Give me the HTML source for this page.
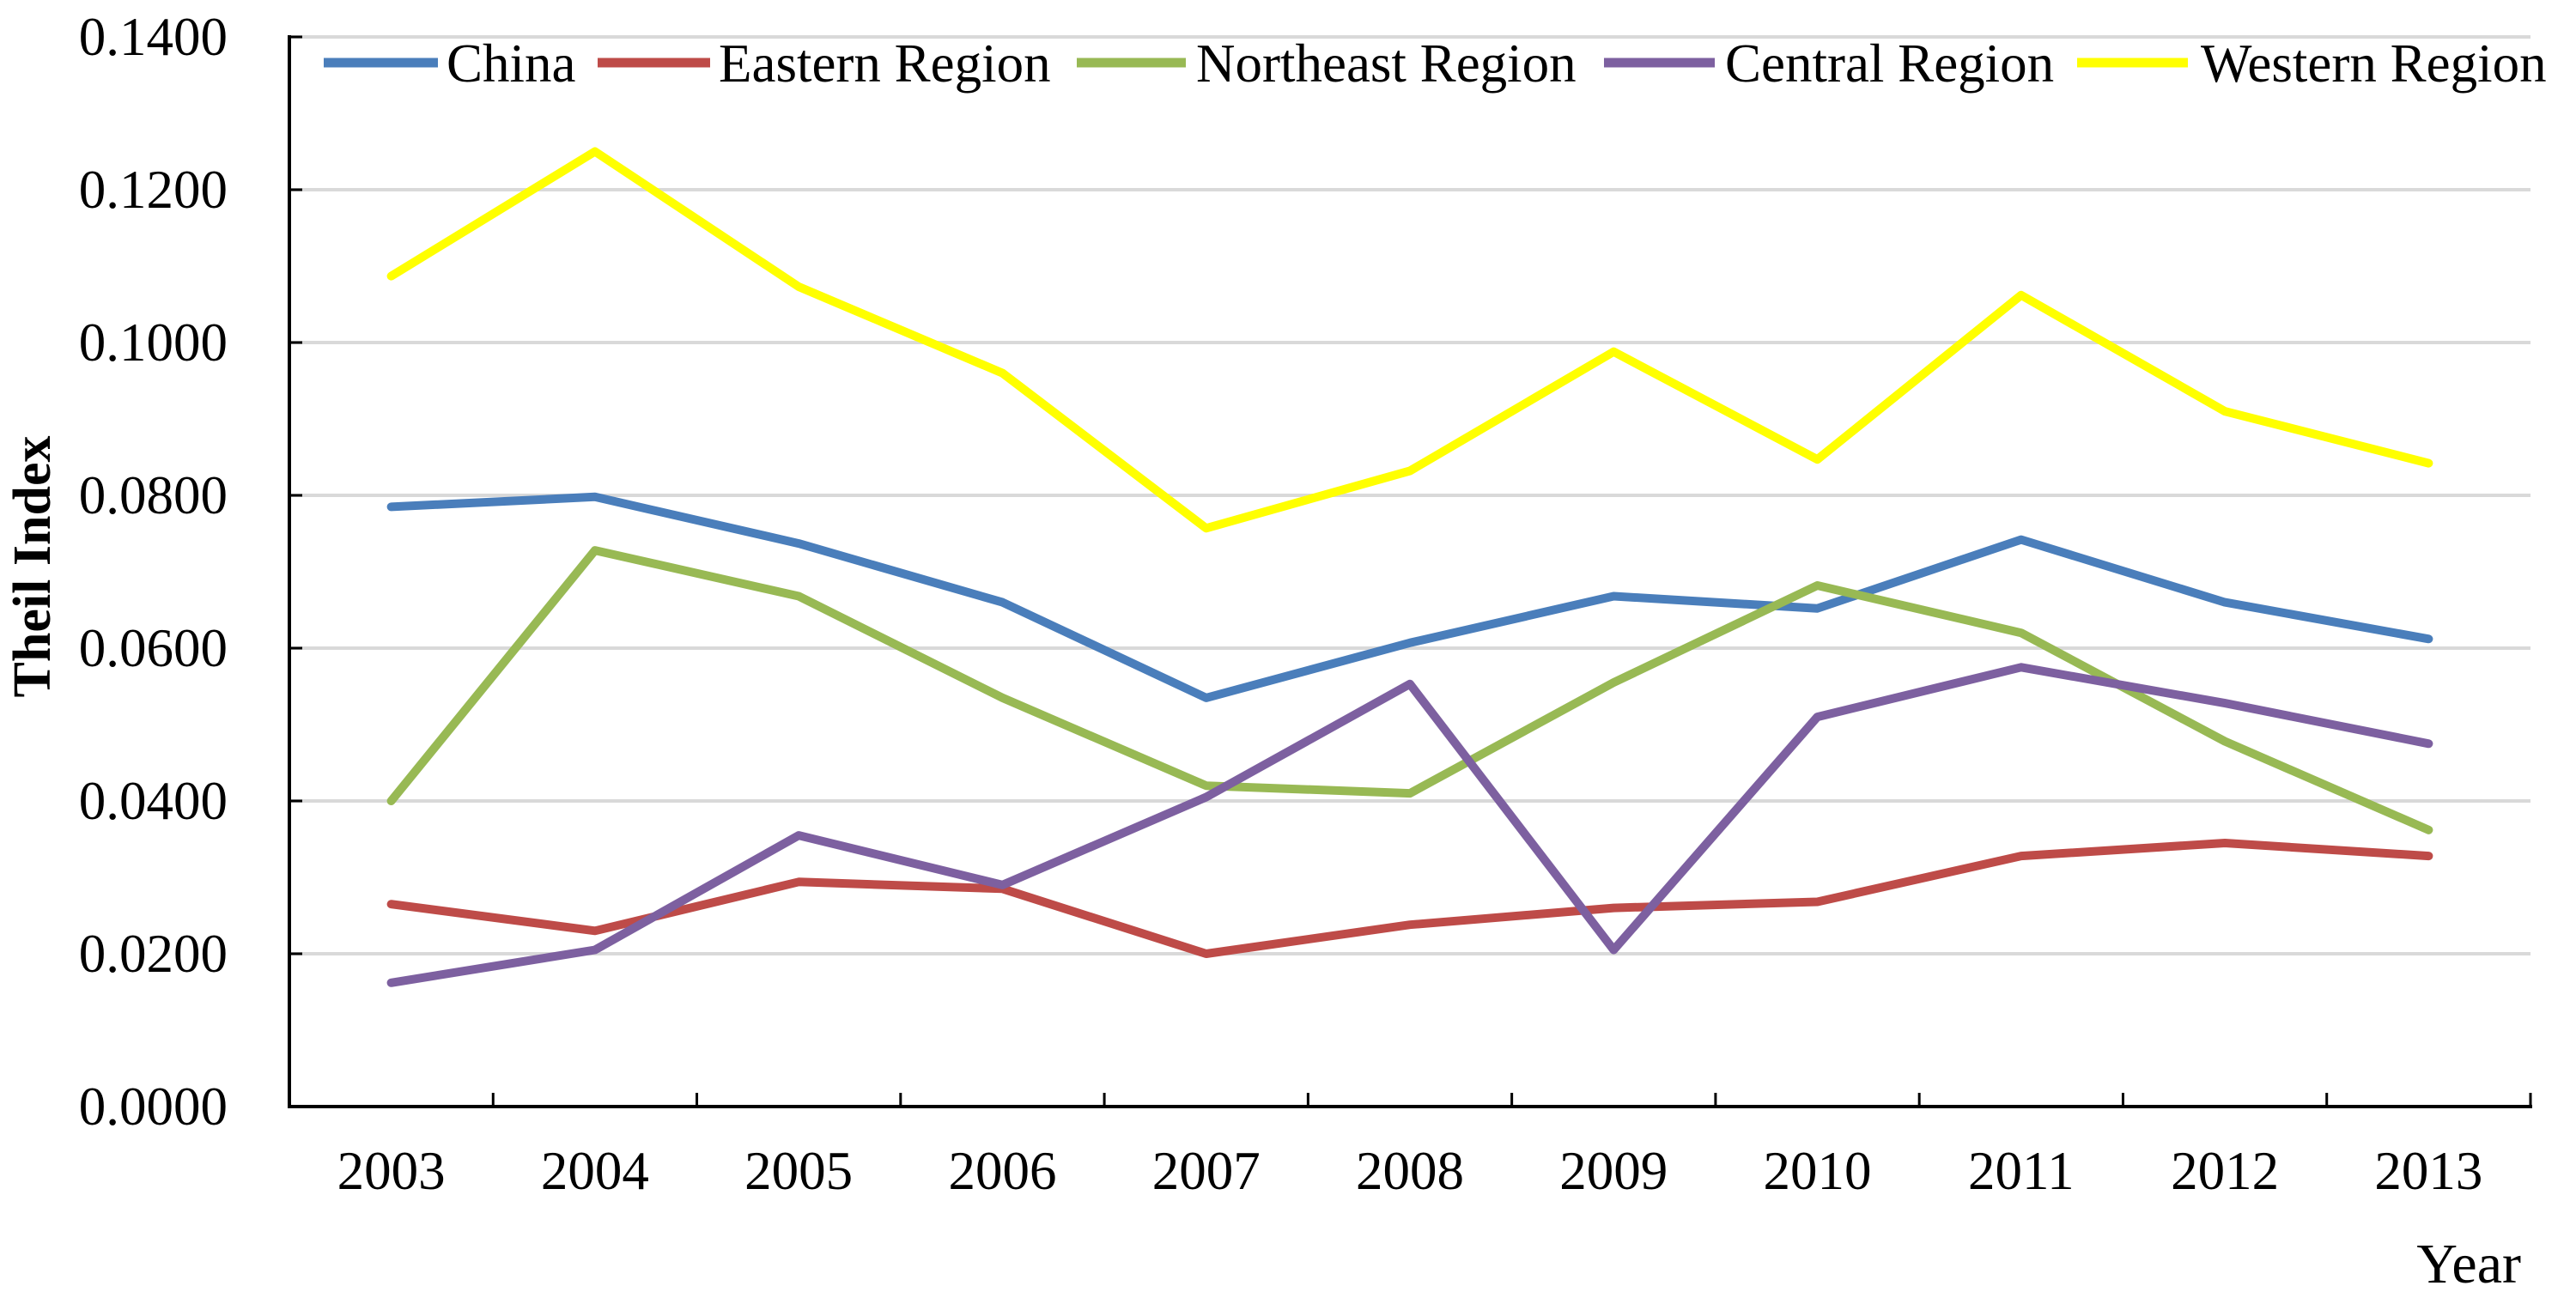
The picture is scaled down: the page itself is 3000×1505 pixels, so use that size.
<!DOCTYPE html>
<html><head><meta charset="utf-8"><style>
html,body{margin:0;padding:0;background:#fff;}
svg text{font-family:"Liberation Serif","Times New Roman",serif;fill:#000;}
</style></head><body>
<svg width="3000" height="1500" viewBox="0 0 3000 1500" xmlns="http://www.w3.org/2000/svg">
<g id="grid"></g>
<g id="axes"></g>
<g id="series"></g>
<g id="legend"></g>
<text transform="translate(58,660) rotate(-90)" text-anchor="middle" font-size="62" font-weight="bold">Theil Index</text>
<text x="2936" y="1494" text-anchor="end" font-size="66">Year</text>
</svg>
<script>
const years = ["2003","2004","2005","2006","2007","2008","2009","2010","2011","2012","2013"];
const yTicks = [0,0.02,0.04,0.06,0.08,0.10,0.12,0.14];
const seriesNames = ["China","Eastern Region","Northeast Region","Central Region","Western Region"];
const seriesColors = ["#4a7ebb","#be4b48","#98b954","#7d60a0","#ffff00"];
const china = [0.0785,0.0798,0.0737,0.0660,0.0535,0.0607,0.0668,0.0652,0.0742,0.0660,0.0612];
const eastern = [0.0265,0.0230,0.0294,0.0285,0.0200,0.0238,0.0260,0.0268,0.0328,0.0345,0.0328];
const northeast = [0.0400,0.0728,0.0668,0.0535,0.0420,0.0410,0.0555,0.0682,0.0620,0.0478,0.0362];
const central = [0.0162,0.0205,0.0355,0.0290,0.0405,0.0553,0.0205,0.0510,0.0575,0.0528,0.0475];
const western = [0.1087,0.1250,0.1073,0.0960,0.0757,0.0832,0.0988,0.0847,0.1062,0.0910,0.0842];
const allSeries = [china,eastern,northeast,central,western];

const NS="http://www.w3.org/2000/svg";
const L=337, R=2947, T=43, B=1289;
const catW=(R-L)/years.length;
function xPos(i){return L+catW*(i+0.5);}
function yPos(v){return B-(v/0.14)*(B-T);}
function mk(tag,attrs,parent){const e=document.createElementNS(NS,tag);for(const k in attrs)e.setAttribute(k,attrs[k]);parent.appendChild(e);return e;}
const grid=document.getElementById('grid'),axes=document.getElementById('axes'),ser=document.getElementById('series'),leg=document.getElementById('legend');

yTicks.forEach(t=>{
  const y=yPos(t);
  if(t>0){const g=mk('line',{x1:L,x2:R,y1:y,y2:y,stroke:'#d9d9d9','stroke-width':4},grid);
  
  }
  const tk=mk('line',{x1:L,x2:L+15,y1:y,y2:y,stroke:'#000','stroke-width':3},axes);
  
  
  const tx=mk('text',{x:265,y:y+21,'text-anchor':'end','font-size':63},axes);
  tx.textContent=t.toFixed(4);
  
  
});
const ya=mk('line',{x1:L,x2:L,y1:T-2,y2:B+2,stroke:'#000','stroke-width':4},axes);


const xa=mk('line',{x1:L-2,x2:R+2,y1:B,y2:B,stroke:'#000','stroke-width':4},axes);


for(let i=1;i<=years.length;i++){
  const x=L+catW*i;
  const tk=mk('line',{x1:x,x2:x,y1:B,y2:B-16,stroke:'#000','stroke-width':3},axes);
  
  
}
years.forEach((yr,i)=>{
  const tx=mk('text',{x:xPos(i),y:1385,'text-anchor':'middle','font-size':63},axes);
  tx.textContent=yr;
  
  
});
allSeries.forEach((vals,s)=>{
  const pts=vals.map((v,i)=>xPos(i).toFixed(1)+','+yPos(v).toFixed(1)).join(' ');
  const pl=mk('polyline',{points:pts,fill:'none',stroke:seriesColors[s],'stroke-width':10,'stroke-linejoin':'round','stroke-linecap':'round'},ser);
  
  
});
const legLine=[[377,510],[696,827],[1254,1381],[1868,1997],[2419,2548]];
const legText=[520,837,1393,2009,2563];
seriesNames.forEach((n,s)=>{
  const g=mk('g',{},leg);
  
  
  mk('line',{x1:legLine[s][0],x2:legLine[s][1],y1:73,y2:73,stroke:seriesColors[s],'stroke-width':11},g);
  const t=mk('text',{x:legText[s],y:95,'font-size':63},g);
  t.textContent=n;
});
</script>
</body></html>
